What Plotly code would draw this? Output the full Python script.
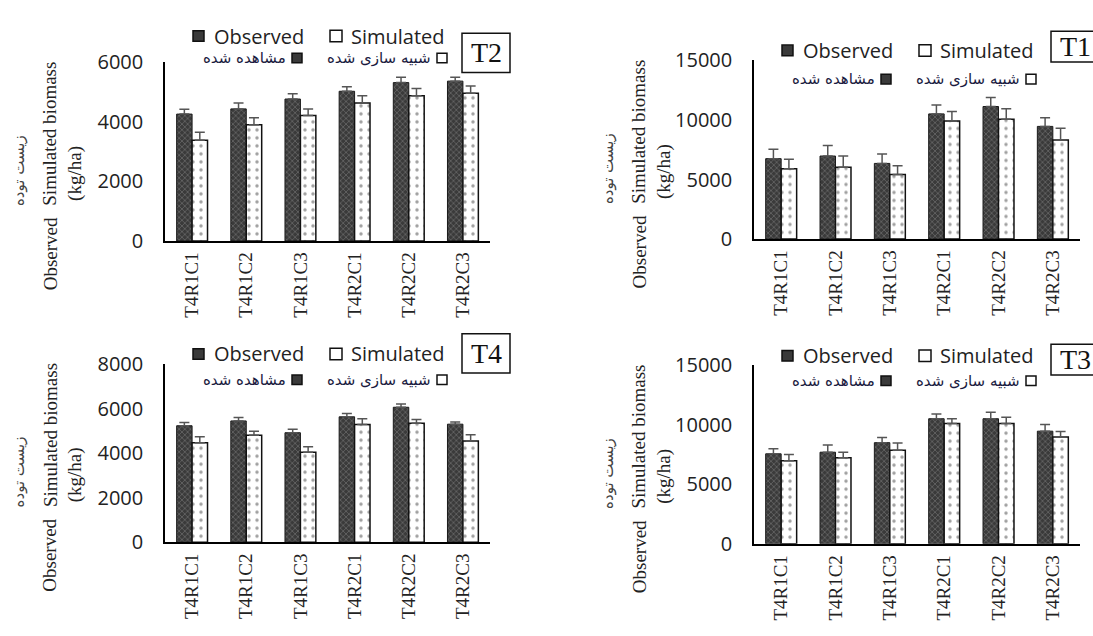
import plotly.graph_objects as go

# ---------------- data ----------------
categories = ["T4R1C1", "T4R1C2", "T4R1C3", "T4R2C1", "T4R2C2", "T4R2C3"]

t2_obs = [4250, 4425, 4755, 5015, 5305, 5355]
t2_obs_err = [160, 195, 180, 150, 180, 130]
t2_sim = [3375, 3890, 4200, 4620, 4865, 4950]
t2_sim_err = [270, 235, 225, 245, 245, 245]

t1_obs = [6750, 6970, 6350, 10510, 11130, 9460]
t1_obs_err = [800, 885, 800, 750, 750, 725]
t1_sim = [5900, 6030, 5415, 9920, 10055, 8310]
t1_sim_err = [800, 940, 750, 800, 885, 1000]

t4_obs = [5235, 5450, 4920, 5635, 6065, 5305]
t4_obs_err = [145, 160, 160, 145, 145, 100]
t4_sim = [4475, 4805, 4045, 5290, 5350, 4545]
t4_sim_err = [260, 185, 245, 260, 170, 285]

t3_obs = [7555, 7690, 8490, 10500, 10500, 9455]
t3_obs_err = [430, 615, 430, 400, 535, 560]
t3_sim = [6965, 7230, 7850, 10100, 10100, 8975]
t3_sim_err = [535, 455, 615, 400, 535, 455]

panel_names = ["T2", "T1", "T4", "T3"]
y_max = [6000, 15000, 8000, 15000]
y_step = [2000, 5000, 2000, 5000]
legend_en = ["Observed", "Simulated"]
legend_fa = ["مشاهده شده", "شبیه سازی شده"]
title_obs = "Observed"
title_sim = "Simulated biomass"
title_unit = "(kg/ha)"
title_fa = "زیست توده"

obs_series = [t2_obs, t1_obs, t4_obs, t3_obs]
obs_errs = [t2_obs_err, t1_obs_err, t4_obs_err, t3_obs_err]
sim_series = [t2_sim, t1_sim, t4_sim, t3_sim]
sim_errs = [t2_sim_err, t1_sim_err, t4_sim_err, t3_sim_err]

# ---------------- layout geometry (pixels) ----------------
W, H = 1093, 636
panels = [
    dict(x0=165, x1=490, yb=237, yt=50, l1=23, l2=46, bt=20, bb=61),
    dict(x0=754, x1=1080, yb=235, yt=48.5, l1=38, l2=68, bt=18, bb=50),
    dict(x0=165, x1=490, yb=551.7, yt=365.7, l1=355, l2=382, bt=334, bb=375),
    dict(x0=754, x1=1080, yb=553.3, yt=366.7, l1=357, l2=383, bt=345, bb=377),
]


def fx(px):
    return px / W


def fy(py):
    return 1 - py / H


fig = go.Figure()
suffixes = ["", "2", "3", "4"]

OBS_FILL = "#3a3a3a"
for i, s in enumerate(suffixes):
    fig.add_trace(go.Bar(
        x=categories, y=obs_series[i], xaxis="x" + s, yaxis="y" + s,
        name=legend_en[0], showlegend=False,
        marker=dict(color=OBS_FILL, line=dict(color="#1a1a1a", width=1),
                    pattern=dict(shape="x", fgcolor="#a8a8a8", bgcolor=OBS_FILL,
                                 size=4, solidity=0.3)),
        error_y=dict(type="data", symmetric=False, array=obs_errs[i],
                     arrayminus=[0] * len(categories), color="#555555",
                     thickness=1.5, width=5),
    ))
    fig.add_trace(go.Bar(
        x=categories, y=sim_series[i], xaxis="x" + s, yaxis="y" + s,
        name=legend_en[1], showlegend=False,
        marker=dict(color="white", line=dict(color="#111111", width=1.5),
                    pattern=dict(shape=".", fgcolor="#444444", bgcolor="white",
                                 size=8, solidity=0.15)),
        error_y=dict(type="data", symmetric=False, array=sim_errs[i],
                     arrayminus=[0] * len(categories), color="#555555",
                     thickness=1.5, width=5),
    ))

layout = dict(
    width=W, height=H, margin=dict(l=0, r=0, t=0, b=0),
    paper_bgcolor="white", plot_bgcolor="white",
    barmode="group", bargap=0.43, bargroupgap=0.0,
    showlegend=False,
)

annotations = []
shapes = []
SERIF = "Liberation Serif, Times New Roman, serif"
for i, s in enumerate(suffixes):
    p = panels[i]
    layout["xaxis" + s] = dict(
        domain=[fx(p["x0"]), fx(p["x1"])], anchor="y" + s,
        showline=True, linecolor="black", linewidth=1.5, ticks="",
        tickangle=-90, showgrid=False, zeroline=False,
        tickfont=dict(family=SERIF, size=19, color="#222222"),
        ticklabelstandoff=2,
    )
    layout["yaxis" + s] = dict(
        domain=[fy(p["yb"]), fy(p["yt"])], anchor="x" + s,
        range=[0, y_max[i]], tick0=0, dtick=y_step[i], tickformat="d",
        showline=True, linecolor="black", linewidth=1.5, ticks="",
        showgrid=False, zeroline=False,
        tickfont=dict(family="Open Sans", size=20, color="#222222"),
        ticklabelstandoff=16,
    )
    x0 = p["x0"]
    yb = p["yb"]
    annotations += [
        dict(text=title_obs, x=fx(x0 - 115), y=fy(yb + 14), textangle=-90,
             font=dict(family=SERIF, size=19, color="#222222")),
        dict(text=title_sim, x=fx(x0 - 115), y=fy(yb - 112), textangle=-90,
             font=dict(family=SERIF, size=19, color="#222222")),
        dict(text=title_unit, x=fx(x0 - 90), y=fy(yb - 70), textangle=-90,
             font=dict(family=SERIF, size=19, color="#222222")),
        dict(text=title_fa, x=fx(x0 - 146), y=fy(yb - 73), textangle=-90,
             font=dict(family="DejaVu Sans", size=15, color="#444444")),
        dict(text=legend_en[0], x=fx(x0 + 47), y=fy(p["l1"]), xanchor="left",
             font=dict(family="Open Sans", size=20, color="#222222")),
        dict(text=legend_en[1], x=fx(x0 + 184), y=fy(p["l1"]), xanchor="left",
             font=dict(family="Open Sans", size=20, color="#222222")),
        dict(text=legend_fa[0], x=fx(x0 + 123), y=fy(p["l2"]), xanchor="right",
             font=dict(family="DejaVu Sans", size=15, color="#1a1a40")),
        dict(text=legend_fa[1], x=fx(x0 + 268), y=fy(p["l2"]), xanchor="right",
             font=dict(family="DejaVu Sans", size=15, color="#1a1a40")),
        dict(text=panel_names[i], x=fx(x0 + 297 + 24), y=fy((p["bt"] + p["bb"]) / 2),
             font=dict(family=SERIF, size=28, color="#111111")),
    ]

    def sq(cx0, cy, size, filled):
        shapes.append(dict(
            type="rect", xref="paper", yref="paper",
            x0=fx(cx0), x1=fx(cx0 + size), y0=fy(cy + size / 2), y1=fy(cy - size / 2),
            fillcolor=OBS_FILL if filled else "white",
            line=dict(color="#111111", width=1.5),
        ))
    sq(x0 + 28, p["l1"], 11, True)
    sq(x0 + 165, p["l1"], 12, False)
    sq(x0 + 127, p["l2"], 10, True)
    sq(x0 + 272, p["l2"], 10, False)
    shapes.append(dict(
        type="rect", xref="paper", yref="paper",
        x0=fx(x0 + 297), x1=fx(x0 + 345), y0=fy(p["bb"]), y1=fy(p["bt"]),
        fillcolor="rgba(0,0,0,0)", line=dict(color="#111111", width=1.5),
    ))

for a in annotations:
    a.update(xref="paper", yref="paper", showarrow=False)
    a.setdefault("xanchor", "center")
    a.setdefault("yanchor", "middle")

layout["annotations"] = annotations
layout["shapes"] = shapes
fig.update_layout(**layout)
fig.write_html("out.html")
